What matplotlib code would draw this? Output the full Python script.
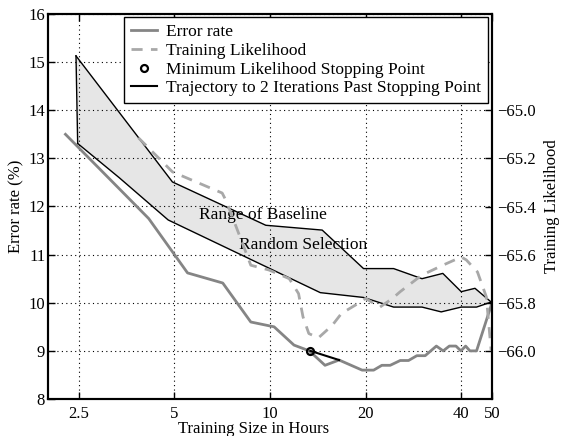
import matplotlib
matplotlib.use('Agg')
import matplotlib.pyplot as plt
from matplotlib.lines import Line2D
from matplotlib.ticker import FixedLocator, FixedFormatter, NullLocator

plt.rcParams['font.family'] = ['Liberation Serif', 'DejaVu Serif']
plt.rcParams['font.size'] = 12

# ---- data ----
err_x = [2.27, 4.15, 5.5, 7.1, 8.7, 10.3, 11.9, 13.3, 14.9, 16.5, 19.5, 21.2, 22.5, 23.9,
         25.7, 27.3, 29.0, 30.8, 33.4, 35.1, 36.7, 38.5, 39.9, 41.3, 42.6, 44.7, 50.0]
err_y = [13.5, 11.75, 10.62, 10.41, 9.6, 9.5, 9.12, 9.0, 8.7, 8.81, 8.6, 8.6, 8.7, 8.7,
         8.8, 8.8, 8.9, 8.9, 9.1, 9.0, 9.1, 9.1, 9.0, 9.1, 9.0, 9.0, 10.0]

lik_x = [3.85, 4.93, 7.07, 7.3, 8.7, 9.93, 11.5, 12.3, 12.7, 13.25, 14.2, 15.7, 16.8,
         19.0, 20.0, 22.2, 24.3, 25.7, 30.0, 35.0, 40.0, 41.5, 45.0, 48.0, 49.7]
lik_y = [-65.114, -65.256, -65.344, -65.38, -65.644, -65.664, -65.70, -65.762,
         -65.858, -65.928, -65.946, -65.894, -65.844, -65.802, -65.782, -65.818, -65.782,
         -65.754, -65.686, -65.644, -65.61, -65.622, -65.672, -65.776, -66.0]

band_up_x = [2.45, 4.93, 9.7, 14.6, 19.7, 24.5, 30.1, 35.0, 40.0, 44.2, 50.0]
band_up_y = [15.13, 12.51, 11.61, 11.51, 10.71, 10.71, 10.5, 10.61, 10.23, 10.30, 10.0]
band_lo_x = [2.48, 3.35, 4.78, 14.4, 19.7, 24.5, 30.1, 34.6, 40.0, 44.7, 50.0]
band_lo_y = [13.31, 12.6, 11.72, 10.21, 10.11, 9.91, 9.91, 9.81, 9.91, 9.91, 10.02]

stop_x = [13.4]
stop_y = [9.0]
traj_x = [13.4, 16.5]
traj_y = [9.0, 8.81]

x_ticks = [2.5, 5, 10, 20, 40, 50]
x_labels = ['2.5', '5', '10', '20', '40', '50']
y1_ticks = [8, 9, 10, 11, 12, 13, 14, 15, 16]
y2_ticks = [-66.0, -65.8, -65.6, -65.4, -65.2, -65.0]

err_col = '#858585'
lik_col = '#a8a8a8'

fig = plt.figure(figsize=(5.63, 4.36), dpi=100)
ax1 = fig.add_axes([48/563, 1-399/436, (492-48)/563, (399-14)/436])
ax1.set_xscale('log')
ax1.set_xlim(2, 50)
ax1.set_ylim(8, 16)

# band
poly_x = band_up_x + band_lo_x[::-1]
poly_y = band_up_y + band_lo_y[::-1]
ax1.fill(poly_x, poly_y, facecolor='#e6e6e6', edgecolor='none', zorder=1)
ax1.plot(band_up_x, band_up_y, color='black', lw=1.0, zorder=3)
ax1.plot(band_lo_x, band_lo_y, color='black', lw=1.0, zorder=3)
ax1.plot([band_up_x[0], band_lo_x[0]], [band_up_y[0], band_lo_y[0]], color='black', lw=1.0, zorder=3)

ax1.plot(err_x, err_y, color=err_col, lw=2.0, zorder=2)
ax1.plot(traj_x, traj_y, color='black', lw=1.5, zorder=4)
ax1.plot(stop_x, stop_y, 'o', mfc='none', mec='black', mew=1.6, ms=5, zorder=5)

ax1.text(9.47, 11.82, 'Range of Baseline', ha='center', va='center', zorder=6, fontsize=12.5)
ax1.text(12.7, 11.2, 'Random Selection', ha='center', va='center', zorder=6, fontsize=12.5)

ax1.xaxis.set_major_locator(FixedLocator(x_ticks))
ax1.xaxis.set_major_formatter(FixedFormatter(x_labels))
ax1.xaxis.set_minor_locator(NullLocator())
ax1.set_yticks(y1_ticks)
ax1.grid(True, which='major', linestyle=(0, (1, 3)), color='black', lw=0.8)
ax1.tick_params(direction='in', length=5, width=1, top=True, right=True, labelsize=12)
ax1.tick_params(axis='y', pad=2)
ax1.tick_params(axis='x', pad=5)
for s in ax1.spines.values():
    s.set_linewidth(1.5)
ax1.set_xlabel('Training Size in Hours')
ax1.xaxis.set_label_coords(0.464, -0.056)
ax1.set_ylabel('Error rate (%)', labelpad=3)

ax2 = ax1.twinx()
ax2.set_ylim(-66.2, -64.6)
ax2.plot(lik_x, lik_y, color=lik_col, lw=2.0, ls=(0, (4, 3)), zorder=2)
ax2.set_yticks(y2_ticks)
ax2.set_yticklabels(['%.1f' % v for v in y2_ticks])
ax2.set_yticklabels([('%.1f' % v).replace('-', '\u2212') for v in y2_ticks])
ax2.tick_params(direction='in', length=5, width=1, labelsize=12)
ax2.set_ylabel('Training Likelihood', labelpad=6)
for s in ax2.spines.values():
    s.set_linewidth(1.5)

handles = [
    Line2D([], [], color=err_col, lw=2.0),
    Line2D([], [], color=lik_col, lw=2.0, ls=(0, (4, 3))),
    Line2D([], [], ls='none', marker='o', mfc='none', mec='black', mew=1.6, ms=5),
    Line2D([], [], color='black', lw=1.5),
]
labels = ['Error rate', 'Training Likelihood', 'Minimum Likelihood Stopping Point',
          'Trajectory to 2 Iterations Past Stopping Point']
leg = ax2.legend(handles, labels, loc='upper right', bbox_to_anchor=(0.991, 0.992),
                 borderaxespad=0, fancybox=False, framealpha=1, edgecolor='black',
                 handlelength=1.5, handletextpad=0.5, labelspacing=0.15, borderpad=0.4,
                 fontsize=12.5)
leg.get_frame().set_linewidth(1.0)
leg.set_zorder(10)

fig.savefig('out.png', dpi=100)
